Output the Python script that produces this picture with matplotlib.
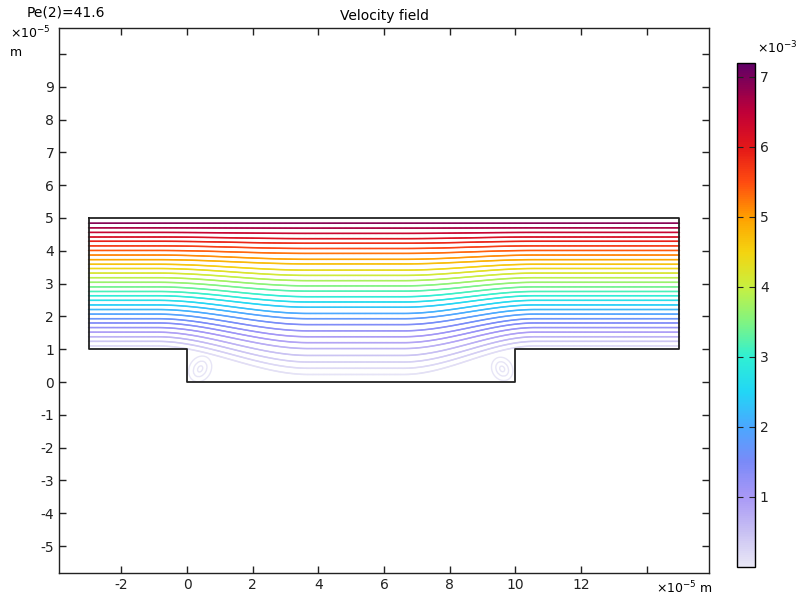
import numpy as np
import matplotlib
matplotlib.use('Agg')
import matplotlib.pyplot as plt
from matplotlib.collections import LineCollection
from matplotlib.colors import LinearSegmentedColormap, Normalize
from matplotlib.patches import Ellipse

# geometry of the channel with the cavity (units of 1e-5 m)
wall_x = [-3, 15, 15, 10, 10, 0, 0, -3, -3]
wall_y = [5, 5, 1, 1, 0, 0, 1, 1, 5]

# streamline heights at the inlet and above the middle of the cavity
y_inlet = [4.84, 4.70, 4.56, 4.42, 4.29, 4.15, 4.01, 3.87, 3.73, 3.59,
           3.46, 3.32, 3.18, 3.04, 2.90, 2.76, 2.63, 2.49, 2.35, 2.21,
           2.07, 1.93, 1.80, 1.66, 1.52, 1.38, 1.24, 1.10]
y_middle = [4.84, 4.69, 4.53, 4.37, 4.23, 4.07, 3.92, 3.74, 3.60, 3.41,
            3.25, 3.09, 2.93, 2.77, 2.60, 2.44, 2.28, 2.09, 1.93, 1.75,
            1.56, 1.38, 1.20, 1.02, 0.81, 0.61, 0.42, 0.23]

# velocity magnitude along each line (units of 1e-3 m/s)
u_inlet = [6.91, 6.66, 6.41, 6.16, 5.92, 5.67, 5.42, 5.17, 4.91, 4.66,
           4.43, 4.18, 3.92, 3.67, 3.42, 3.17, 2.93, 2.68, 2.43, 2.18,
           1.93, 1.67, 1.44, 1.19, 0.94, 0.68, 0.43, 0.18]
u_middle = [6.91, 6.64, 6.36, 6.08, 5.82, 5.54, 5.27, 4.95, 4.69, 4.36,
            4.07, 3.78, 3.49, 3.20, 2.90, 2.61, 2.33, 2.00, 1.74, 1.46,
            1.18, 0.98, 0.85, 0.65, 0.45, 0.30, 0.18, 0.08]

# corner eddies: centre, loop sizes, tilt
eddy_x = [0.40, 9.60]
eddy_y = [0.40, 0.40]
eddy_w = [[0.14, 0.38, 0.66], [0.14, 0.36, 0.62]]
eddy_h = [[0.20, 0.50, 0.82], [0.18, 0.46, 0.74]]
eddy_tilt = [-30, 30]

u_max = 7.2

# COMSOL "RainbowLight"-like table
cmap_vals = [0.0, 0.5, 1.0, 1.5, 2.0, 2.5, 3.0, 3.5, 4.0, 4.5, 5.0, 5.5, 6.0, 6.5, 7.2]
cmap_cols = ['#e9e7f6', '#c8c0f3', '#a898f6', '#7a8af8', '#4aa8ff', '#22d6f6',
             '#30f0d2', '#80f482', '#c8f040', '#f4d410', '#ffa000', '#ff4c10',
             '#e41818', '#c00038', '#600066']
cmap = LinearSegmentedColormap.from_list(
    'rainbowlight', list(zip(np.array(cmap_vals) / u_max, cmap_cols)))
norm = Normalize(0, u_max)


def smoothstep(t):
    t = np.clip(t, 0, 1)
    return t * t * (3 - 2 * t)


fig = plt.figure(figsize=(7.99, 6.05), dpi=100)
ax = fig.add_axes([59 / 799, 32 / 605, 650 / 799, 545 / 605])

# streamlines
x = np.linspace(-3, 15, 700)
s = smoothstep((x + 0.9) / 4.6) * (1 - smoothstep((x - 6.6) / 4.0))
for yi, ym, ui, um in zip(y_inlet, y_middle, u_inlet, u_middle):
    y = yi + (ym - yi) * s
    u = ui + (um - ui) * s
    pts = np.column_stack([x, y]).reshape(-1, 1, 2)
    segs = np.concatenate([pts[:-1], pts[1:]], axis=1)
    lc = LineCollection(segs, cmap=cmap, norm=norm, linewidths=1.1,
                        capstyle='round', alpha=0.9)
    lc.set_snap(False)
    lc.set_array(0.5 * (u[:-1] + u[1:]))
    ax.add_collection(lc)

for cx, cy, ws, hs, tilt in zip(eddy_x, eddy_y, eddy_w, eddy_h, eddy_tilt):
    for w, h in zip(ws, hs):
        ax.add_patch(Ellipse((cx, cy), w, h, angle=tilt, fill=False,
                             ec=cmap(norm(0.05)), lw=1.0))

ax.plot(wall_x, wall_y, color='#222222', lw=1.3)

ax.set_xlim(-3.9, 15.9)
ax.set_ylim(-5.82, 10.79)
ax.set_xticks(np.arange(-2, 15, 2))
ax.set_xticklabels([str(v) for v in range(-2, 13, 2)] + [''])
ax.set_yticks(np.arange(-5, 11, 1))
ax.set_yticklabels([str(v) for v in range(-5, 10)] + [''])
ax.tick_params(direction='in', length=5, width=1, top=True, right=True,
               labelsize=10, colors='#222222')
for sp in ax.spines.values():
    sp.set_linewidth(1.0)
    sp.set_color('#222222')

ax.set_title('Velocity field', fontsize=10, pad=6)
fig.text(27 / 799, 1 - 12 / 605, 'Pe(2)=41.6', fontsize=10, va='center')
fig.text(10 / 799, 1 - 33 / 605, r'$\times10^{-5}$', fontsize=9, va='center')
fig.text(10 / 799, 1 - 53 / 605, 'm', fontsize=9, va='center')
fig.text(656 / 799, 1 - 588 / 605, r'$\times10^{-5}$ m', fontsize=9, va='center')

# colour legend
cax = fig.add_axes([737 / 799, 38 / 605, 18 / 799, 504 / 605])
cb = fig.colorbar(plt.cm.ScalarMappable(norm=norm, cmap=cmap), cax=cax)
cb.set_ticks([1, 2, 3, 4, 5, 6, 7])
cb.ax.tick_params(direction='in', length=4, left=True, right=True,
                  labelsize=10, colors='#222222')
cb.outline.set_linewidth(1.0)
fig.text(757 / 799, 1 - 48 / 605, r'$\times10^{-3}$', fontsize=9, va='center')

fig.savefig('out.png', dpi=100)
